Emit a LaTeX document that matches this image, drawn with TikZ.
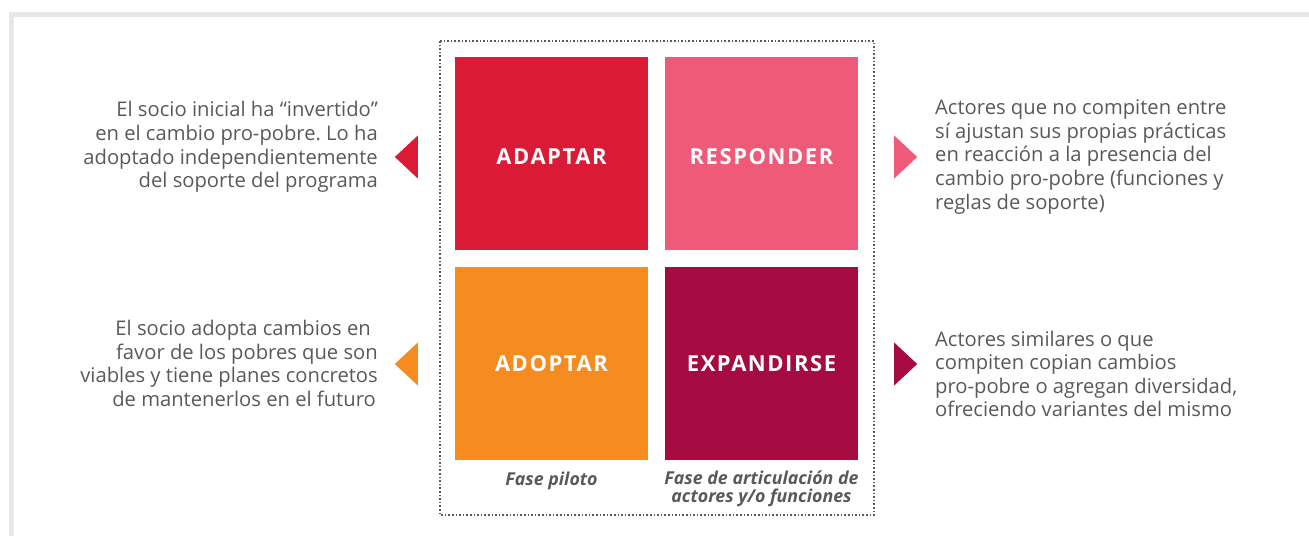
\documentclass[tikz,border=0pt]{standalone}
\usepackage{fontspec}
\setmainfont{Open Sans}
\frenchspacing
\usetikzlibrary{shapes.geometric}
\definecolor{adaptar}{HTML}{DB1A35}
\definecolor{responder}{HTML}{EE5A78}
\definecolor{adoptar}{HTML}{F68B1F}
\definecolor{expandirse}{HTML}{A50A40}
\definecolor{textgray}{HTML}{58595B}
\definecolor{framegray}{HTML}{E6E7E8}
\definecolor{dotgray}{HTML}{5A5A5A}

\begin{document}
\begin{tikzpicture}[x=1pt,y=-1pt]
                \tikzset{Quad/.style= {minimum size=193pt, inner sep=0pt},
                         QuadText/.style= {text=white, inner sep=0pt,
                                       font=\fontsize{22}{26}\selectfont\bfseries\addfontfeatures{LetterSpace=7}},
                         Desc/.style= {text=textgray, inner sep=0pt,
                                       font=\fontsize{20.2}{23.6}\selectfont},
                         Fase/.style= {text=textgray, inner sep=0pt, align=center,
                                       font=\fontsize{17.8}{17.8}\selectfont\bfseries\itshape},
                         Tri/.style= {isosceles triangle, isosceles triangle stretches=true,
                                      minimum height=23pt, minimum width=43pt, inner sep=0pt}}
                \useasboundingbox (0,0) rectangle (1309,536);
                \draw[framegray, line width=5pt] (11.5,536) -- (11.5,14.5) -- (1309,14.5);
                \draw[dotgray, line width=1.6pt, dotted] (440,41) rectangle (874,515);
                \node[Quad, fill=adaptar]    (Adaptar)    at (551.5,153) {};
                \node[Quad, fill=responder]  (Responder)  at (761.5,153) {};
                \node[Quad, fill=adoptar]    (Adoptar)    at (551.5,363) {};
                \node[Quad, fill=expandirse] (Expandirse) at (761.5,363) {};
                \node[QuadText] (LAdaptar)    at ([yshift=-4pt]Adaptar.center)    {ADAPTAR};
                \node[QuadText] (LResponder)  at ([yshift=-4pt]Responder.center)  {RESPONDER};
                \node[QuadText] (LAdoptar)    at ([yshift=-1pt]Adoptar.center)    {ADOPTAR};
                \node[QuadText] (LExpandirse) at ([yshift=-1pt]Expandirse.center) {EXPANDIRSE};
                \node[Tri, fill=adaptar, shape border rotate=180]    (TAdaptar)    at (408.5,157) {};
                \node[Tri, fill=adoptar, shape border rotate=180]    (TAdoptar)    at (408.5,364) {};
                \node[Tri, fill=responder]  (TResponder)  at (903.5,157) {};
                \node[Tri, fill=expandirse] (TExpandirse) at (903.5,364) {};
                \node[Desc, align=right, anchor=east] (DAdaptar) at (378,147)
                    {El socio inicial ha ``invertido''\\en el cambio pro-pobre. Lo ha\hspace*{8pt}\\adoptado independientemente\hspace*{9pt}\\del soporte del programa};
                \node[Desc, align=right, anchor=east] (DAdoptar) at (378,363.5)
                    {El socio adopta cambios en\hspace*{7pt}\\favor de los pobres que son\hspace*{7pt}\\viables y tiene planes concretos\hspace*{14pt}\\de mantenerlos en el futuro\hspace*{2pt}};
                \node[Desc, align=left, anchor=west] (DResponder) at (935,157)
                    {Actores que no compiten entre\\sí ajustan sus propias prácticas\\en reacción a la presencia del\\cambio pro-pobre (funciones y\\reglas de soporte)};
                \node[Desc, align=left, anchor=west] (DExpandirse) at (935,374)
                    {Actores similares o que\\compiten copian cambios\\pro-pobre o agregan diversidad,\\ofreciendo variantes del mismo};
                \node[Fase] (FPiloto) at (551.5,480.5) {Fase piloto};
                \node[Fase] (FArticulacion) at (761.5,489) {Fase de articulación de\\actores y/o funciones};
\end{tikzpicture}
\end{document}
